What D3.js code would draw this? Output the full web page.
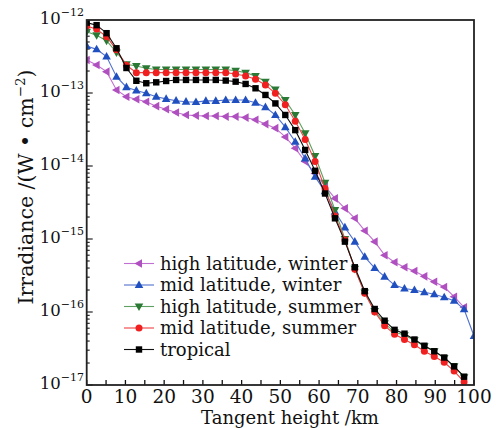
<!DOCTYPE html>
<html><head><meta charset="utf-8">
<script src="https://cdn.jsdelivr.net/npm/d3@7"></script>
<style>body{margin:0;background:#fff}svg{display:block}text{font-family:"DejaVu Serif",serif;fill:#111}</style>
</head><body><svg id="c" width="496" height="428"></svg>
<script>
const heights=[0,2.56,5.13,7.69,10.26,12.82,15.38,17.95,20.51,23.08,25.64,28.21,30.77,33.33,35.9,38.46,41.03,43.59,46.15,48.72,51.28,53.85,56.41,58.97,61.54,64.1,66.67,69.23,71.79,74.36,76.92,79.49,82.05,84.62,87.18,89.74,92.31,94.87,97.44,100];
const highWinter=[2.83e-13,2.42e-13,1.96e-13,1.1e-13,8.9e-14,8.2e-14,7.6e-14,6.6e-14,6.0e-14,5.4e-14,5.0e-14,4.9e-14,4.85e-14,4.85e-14,4.75e-14,4.75e-14,4.6e-14,4.3e-14,3.75e-14,3.3e-14,2.5e-14,1.75e-14,1.15e-14,7.9e-15,5.3e-15,3.6e-15,2.63e-15,1.92e-15,1.3e-15,9.2e-16,6.0e-16,4.8e-16,4.1e-16,3.65e-16,3.08e-16,2.6e-16,2.2e-16,1.62e-16,1.16e-16];
const midWinter=[4.4e-13,3.96e-13,3.15e-13,1.67e-13,1.2e-13,1.08e-13,9.9e-14,8.9e-14,8.3e-14,7.85e-14,7.6e-14,7.5e-14,7.8e-14,7.8e-14,8.0e-14,8.0e-14,8.0e-14,7.35e-14,6.4e-14,5.0e-14,3.4e-14,2.15e-14,1.27e-14,7.1e-15,4.5e-15,2.37e-15,1.44e-15,9.2e-16,5.7e-16,4.0e-16,3.05e-16,2.34e-16,2.1e-16,2.0e-16,1.86e-16,1.75e-16,1.59e-16,1.43e-16,1.09e-16,4.7e-17];
const highSummer=[6.9e-13,6.2e-13,5.2e-13,3.6e-13,2.47e-13,2.34e-13,2.18e-13,2.1e-13,2.1e-13,2.1e-13,2.1e-13,2.1e-13,2.1e-13,2.1e-13,2.1e-13,2.02e-13,1.9e-13,1.71e-13,1.43e-13,1.12e-13,8.0e-14,5.0e-14,2.8e-14,1.37e-14,5.9e-15,2.5e-15,1.0e-15,3.9e-16,1.85e-16,1.03e-16,7.0e-17,5.3e-17,4.8e-17,4.1e-17,3.4e-17,2.9e-17,2.35e-17,1.8e-17,1.28e-17];
const midSummer=[8.3e-13,7.5e-13,5.9e-13,3.9e-13,2.4e-13,1.9e-13,1.9e-13,1.9e-13,1.9e-13,1.9e-13,1.9e-13,1.9e-13,1.9e-13,1.9e-13,1.9e-13,1.82e-13,1.71e-13,1.54e-13,1.29e-13,9.9e-14,6.9e-14,4.1e-14,2.3e-14,1.15e-14,4.9e-15,2.07e-15,9.7e-16,3.85e-16,1.8e-16,1.0e-16,6.5e-17,4.95e-17,4.2e-17,3.55e-17,2.9e-17,2.45e-17,2.05e-17,1.55e-17,1.1e-17];
const tropical=[9.2e-13,8.5e-13,6.6e-13,4.1e-13,2.2e-13,1.47e-13,1.36e-13,1.40e-13,1.46e-13,1.51e-13,1.51e-13,1.51e-13,1.51e-13,1.51e-13,1.48e-13,1.43e-13,1.33e-13,1.16e-13,9.4e-14,7.2e-14,5.0e-14,3.1e-14,1.66e-14,8.6e-15,4.2e-15,1.92e-15,9.2e-16,4.1e-16,1.93e-16,1.1e-16,7.6e-17,5.7e-17,5.05e-17,4.2e-17,3.45e-17,2.9e-17,2.38e-17,1.8e-17,1.3e-17];
const seriesNames=["high latitude, winter","mid latitude, winter","high latitude, summer","mid latitude, summer","tropical"];
const xTicks=[0,10,20,30,40,50,60,70,80,90,100];
const yExps=[-12,-13,-14,-15,-16,-17];

const colors=["#b050c0","#2050c0","#2a7a35","#f02020","#000"];
const lineColors=["#c070d0","#5070d0","#60a060","#f04040","#111"];
const symbols=["left","up","down","circle","square"];
const data=[highWinter,midWinter,highSummer,midSummer,tropical];

const W=496,H=428,L=86.7,R=474,T=20,B=385;
const svg=d3.select("#c");
const x=d3.scaleLinear().domain([0,100]).range([L,R]);
const y=d3.scaleLog().domain([1e-17,1e-12]).range([B,T]);

const g=svg.append("g");
d3.range(0,101,5).forEach(v=>{
  g.append("line").attr("x1",x(v)).attr("x2",x(v)).attr("y1",B).attr("y2",B-5).attr("stroke","#111").attr("stroke-width",1.3);
});
for(let e=-17;e<-12;e++){
  for(let m=1;m<10;m++){
    const v=m*Math.pow(10,e);
    const len=m===1?6:3;
    g.append("line").attr("x1",L).attr("x2",L+len).attr("y1",y(v)).attr("y2",y(v)).attr("stroke","#111").attr("stroke-width",1.1);
  }
}
xTicks.forEach(v=>{
  g.append("text").attr("x",x(v)).attr("y",403).attr("text-anchor","middle").attr("font-size",18.5).text(v);
});
yExps.forEach(e=>{
  const t=g.append("text").attr("x",84).attr("y",y(Math.pow(10,e))+4).attr("text-anchor","end").attr("font-size",16.5);
  t.append("tspan").text("10");
  t.append("tspan").attr("dy",-8).attr("font-size",11).text("\u2212"+(-e));
});

svg.append("clipPath").attr("id","cp").append("rect").attr("x",L).attr("y",T).attr("width",R-L).attr("height",B-T);
const plot=svg.append("g").attr("clip-path","url(#cp)");
const line=d3.line().x(d=>x(d[0])).y(d=>y(d[1]));
function marker(sel,type,col){
  if(type==="circle") sel.append("circle").attr("r",3.5).attr("fill",col);
  else if(type==="square") sel.append("rect").attr("x",-3.2).attr("y",-3.2).attr("width",6.4).attr("height",6.4).attr("fill",col);
  else {
    let p;
    if(type==="up") p=[[0,-4.6],[4.3,3],[-4.3,3]];
    else if(type==="down") p=[[0,4.6],[4.3,-3],[-4.3,-3]];
    else p=[[-4.6,0],[3,-4.3],[3,4.3]];
    sel.append("path").attr("d","M"+p.map(q=>q.join(",")).join("L")+"Z").attr("fill",col);
  }
}
data.forEach((vals,k)=>{
  const pts=vals.map((v,i)=>[heights[i],v]);
  plot.append("path").attr("d",line(pts)).attr("fill","none").attr("stroke",lineColors[k]).attr("stroke-width",1.1);
  pts.forEach(p=>{
    const m=plot.append("g").attr("transform",`translate(${x(p[0])},${y(p[1])})`);
    marker(m,symbols[k],colors[k]);
  });
});

svg.append("rect").attr("x",L).attr("y",T).attr("width",R-L).attr("height",B-T).attr("fill","none").attr("stroke","#222").attr("stroke-width",1.8);

const ly0=263.5,ldy=21.5;
seriesNames.forEach((n,k)=>{
  const yy=ly0+k*ldy;
  svg.append("line").attr("x1",124).attr("x2",154).attr("y1",yy).attr("y2",yy).attr("stroke",lineColors[k]).attr("stroke-width",1.1);
  const m=svg.append("g").attr("transform",`translate(139,${yy})`);
  marker(m,symbols[k],colors[k]);
  svg.append("text").attr("x",160).attr("y",yy+6).attr("font-size",18).text(n);
});

svg.append("text").attr("x",290).attr("y",424).attr("text-anchor","middle").attr("font-size",18).text("Tangent height /km");
const yt=svg.append("text").attr("transform","translate(33,187) rotate(-90)").attr("text-anchor","middle").attr("font-size",20.5);
yt.append("tspan").text("Irradiance /(W \u2022 cm");
yt.append("tspan").attr("dy",-8).attr("font-size",13.5).text("\u22122");
yt.append("tspan").attr("dy",8).text(")");
</script></body></html>
